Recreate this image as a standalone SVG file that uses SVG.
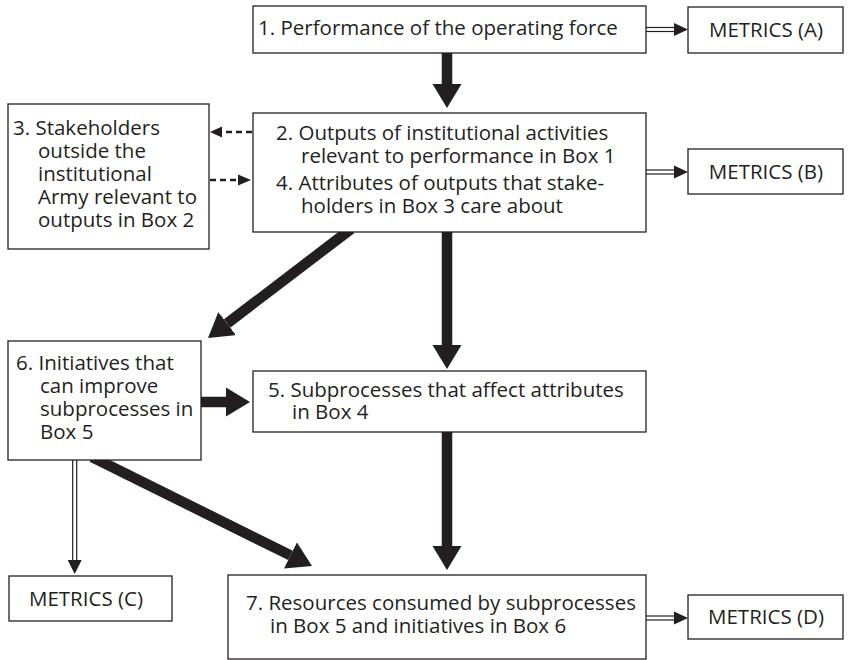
<svg xmlns="http://www.w3.org/2000/svg" width="849" height="660" viewBox="0 0 849 660">
  <defs>
    <style>
      .box { fill: #ffffff; stroke: #231f20; stroke-width: 1.3; }
      .lbl { font-family: "Open Sans", "Liberation Sans", sans-serif; font-size: 20.5px; fill: #231f20; }
      .mid { text-anchor: middle; }
      .thick { stroke: #231f20; stroke-width: 10.5; fill: none; }
      .dash { stroke: #231f20; stroke-width: 2.4; stroke-dasharray: 6 4; fill: none; }
      .rail { stroke: #231f20; stroke-width: 1.2; fill: none; }
      .head { fill: #231f20; stroke: none; }
    </style>
    <marker id="bighead" markerUnits="userSpaceOnUse" markerWidth="26" markerHeight="30" refX="0" refY="14.5" orient="auto">
      <path d="M0,0 L24,14.5 L0,29 z" fill="#231f20"/>
    </marker>
  </defs>

  <!-- connectors, drawn under the boxes -->
  <g id="connectors">
    <!-- heavy flow arrows -->
    <line class="thick" x1="447" y1="50" x2="447" y2="84" marker-end="url(#bighead)"/>
    <line class="thick" x1="351" y1="229" x2="227.1" y2="323.5" marker-end="url(#bighead)"/>
    <line class="thick" x1="447" y1="229" x2="447" y2="345" marker-end="url(#bighead)"/>
    <line class="thick" x1="198" y1="402" x2="226" y2="402" marker-end="url(#bighead)"/>
    <line class="thick" x1="92" y1="457" x2="290.5" y2="555.4" marker-end="url(#bighead)"/>
    <line class="thick" x1="447" y1="429" x2="447" y2="546" marker-end="url(#bighead)"/>

    <!-- dashed links between boxes 2/4 and 3 -->
    <line class="dash" x1="252" y1="132" x2="222" y2="132"/>
    <polygon class="head" points="222,126.5 210,132 222,137.5"/>
    <line class="dash" x1="210" y1="180" x2="238" y2="180"/>
    <polygon class="head" points="238,174.5 251,180 238,185.5"/>

    <!-- double-rail arrows to the metrics boxes -->
    <g id="rail-a">
      <line class="rail" x1="646" y1="27.5" x2="675" y2="27.5"/>
      <line class="rail" x1="646" y1="31.5" x2="675" y2="31.5"/>
      <polygon class="head" points="674,23 688,29.5 674,36"/>
    </g>
    <g id="rail-b">
      <line class="rail" x1="646" y1="170" x2="675" y2="170"/>
      <line class="rail" x1="646" y1="174" x2="675" y2="174"/>
      <polygon class="head" points="674,165.5 688,172 674,178.5"/>
    </g>
    <g id="rail-c">
      <line class="rail" x1="72.7" y1="460" x2="72.7" y2="561"/>
      <line class="rail" x1="76.7" y1="460" x2="76.7" y2="561"/>
      <polygon class="head" points="67.7,560 81.7,560 74.7,574"/>
    </g>
    <g id="rail-d">
      <line class="rail" x1="646" y1="616" x2="675" y2="616"/>
      <line class="rail" x1="646" y1="620" x2="675" y2="620"/>
      <polygon class="head" points="674,611.5 688,618 674,624.5"/>
    </g>
  </g>

  <!-- Box 1 -->
  <g id="box1">
    <rect class="box" x="253" y="6" width="393" height="47"/>
    <text class="lbl" x="258" y="35">1. Performance of the operating force</text>
  </g>

  <!-- Metrics A -->
  <g id="metrics-a">
    <rect class="box" x="688" y="7" width="155" height="46"/>
    <text class="lbl mid" x="766" y="37">METRICS (A)</text>
  </g>

  <!-- Box 2 / 4 -->
  <g id="box2">
    <rect class="box" x="253" y="113" width="393" height="119"/>
    <text class="lbl" x="276" y="140">2. Outputs of institutional activities</text>
    <text class="lbl" x="301" y="163">relevant to performance in Box 1</text>
    <text class="lbl" x="276" y="190">4. Attributes of outputs that stake-</text>
    <text class="lbl" x="301" y="213">holders in Box 3 care about</text>
  </g>

  <!-- Box 3 -->
  <g id="box3">
    <rect class="box" x="8" y="104" width="201" height="145"/>
    <text class="lbl" x="13" y="135">3. Stakeholders</text>
    <text class="lbl" x="38" y="158">outside the</text>
    <text class="lbl" x="38" y="181">institutional</text>
    <text class="lbl" x="38" y="204">Army relevant to</text>
    <text class="lbl" x="38" y="227">outputs in Box 2</text>
  </g>

  <!-- Metrics B -->
  <g id="metrics-b">
    <rect class="box" x="688" y="149" width="155" height="45"/>
    <text class="lbl mid" x="766" y="179">METRICS (B)</text>
  </g>

  <!-- Box 6 -->
  <g id="box6">
    <rect class="box" x="8" y="341" width="193" height="119"/>
    <text class="lbl" x="16" y="370">6. Initiatives that</text>
    <text class="lbl" x="40" y="393">can improve</text>
    <text class="lbl" x="40" y="416">subprocesses in</text>
    <text class="lbl" x="40" y="439">Box 5</text>
  </g>

  <!-- Box 5 -->
  <g id="box5">
    <rect class="box" x="253" y="371" width="393" height="61"/>
    <text class="lbl" x="268" y="397">5. Subprocesses that affect attributes</text>
    <text class="lbl" x="292" y="419">in Box 4</text>
  </g>

  <!-- Metrics C -->
  <g id="metrics-c">
    <rect class="box" x="9" y="576" width="163" height="45"/>
    <text class="lbl mid" x="86" y="606">METRICS (C)</text>
  </g>

  <!-- Box 7 -->
  <g id="box7">
    <rect class="box" x="228" y="575" width="418" height="84"/>
    <text class="lbl" x="246" y="610">7. Resources consumed by subprocesses</text>
    <text class="lbl" x="270" y="633">in Box 5 and initiatives in Box 6</text>
  </g>

  <!-- Metrics D -->
  <g id="metrics-d">
    <rect class="box" x="688" y="595" width="155" height="44"/>
    <text class="lbl mid" x="766" y="624">METRICS (D)</text>
  </g>
</svg>
